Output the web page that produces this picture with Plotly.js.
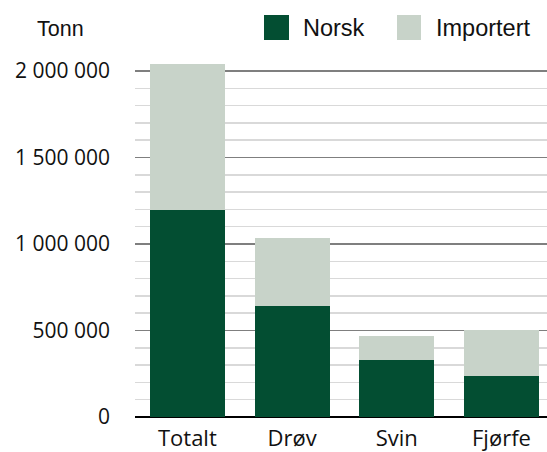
<!DOCTYPE html>
<html>
<head>
<meta charset="utf-8">
<script src="https://cdn.plot.ly/plotly-3.0.1.min.js"></script>
<style>html,body{margin:0;padding:0;background:#fff;}#chart{width:547px;height:452px;}</style>
</head>
<body>
<div id="chart"></div>
<script>
// ---- data ----
const categories = ["Totalt", "Drøv", "Svin", "Fjørfe"];
const norsk = [1195000, 640000, 327500, 235000];
const importert = [845000, 397000, 139000, 266000];
const seriesNames = ["Norsk", "Importert"];
const yTickVals = [0, 500000, 1000000, 1500000, 2000000];
const yTickText = ["0", "500 000", "1 000 000", "1 500 000", "2 000 000"];
const unitLabel = "Tonn";

// ---- layout helpers ----
const W = 547, H = 452;
const M = {l: 135, r: 0, t: 60, b: 35};
const PW = W - M.l - M.r, PH = H - M.t - M.b;
const px = x => (x - M.l) / PW;
const py = y => (H - M.b - y) / PH;

const colors = ["#034e32", "#c8d3c9"];
const sansA = "Liberation Sans, Arial, sans-serif";
const sansB = "Open Sans, Noto Sans, sans-serif";

const traces = [
  {type: "bar", name: seriesNames[0], x: categories, y: norsk, marker: {color: colors[0], line: {width: 0}}, hoverinfo: "skip"},
  {type: "bar", name: seriesNames[1], x: categories, y: importert, marker: {color: colors[1], line: {width: 0}}, hoverinfo: "skip"}
];

const legendItems = [
  {sq: [264, 289], tx: 303},
  {sq: [397, 421], tx: 436}
];
const shapes = [];
const annotations = [];
legendItems.forEach((it, i) => {
  shapes.push({type: "rect", xref: "paper", yref: "paper",
    x0: px(it.sq[0]), x1: px(it.sq[1]), y0: py(40), y1: py(15),
    fillcolor: colors[i], line: {width: 0}});
  annotations.push({xref: "paper", yref: "paper", x: px(it.tx - 2), y: py(28),
    xanchor: "left", yanchor: "middle", showarrow: false, text: seriesNames[i],
    font: {family: sansA, size: 23.5, color: "#111"}});
});
annotations.push({xref: "paper", yref: "paper", x: px(35), y: py(29),
  xanchor: "left", yanchor: "middle", showarrow: false, text: unitLabel,
  font: {family: sansA, size: 21.5, color: "#111"}});

const layout = {
  width: W, height: H,
  margin: M,
  paper_bgcolor: "#fff", plot_bgcolor: "#fff",
  barmode: "stack",
  bargap: 0.284,
  showlegend: false,
  xaxis: {
    type: "category",
    range: [-0.5, 3.435],
    showgrid: false, zeroline: false, showline: false,
    ticks: "", ticklabelstandoff: 6,
    tickfont: {family: sansB, size: 22, color: "#111"}
  },
  yaxis: {
    range: [0, 2063600],
    tickmode: "array", tickvals: yTickVals, ticktext: yTickText,
    ticks: "", ticklabelstandoff: 24,
    tickfont: {family: sansB, size: 21, color: "#111"},
    showgrid: true, gridcolor: "#7f7f7f", gridwidth: 1.3,
    minor: {tickmode: "linear", tick0: 0, dtick: 100000, showgrid: true, gridcolor: "#d9d9d9", gridwidth: 1.5, ticks: ""},
    zeroline: true, zerolinecolor: "#000", zerolinewidth: 2.5,
    showline: false
  },
  shapes: shapes,
  annotations: annotations
};

Plotly.newPlot("chart", traces, layout, {staticPlot: true, displayModeBar: false});
</script>
</body>
</html>
